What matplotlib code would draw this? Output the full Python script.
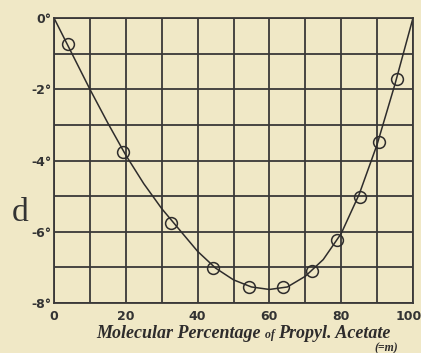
import matplotlib
matplotlib.use("Agg")
import matplotlib.pyplot as plt
import matplotlib.transforms as mtrans

# observed points (molecular % of propyl acetate, depression d in degrees)
obs_x = [4, 19.3, 32.6, 44.4, 54.4, 63.9, 71.8, 78.7, 85.2, 90.5, 95.6]
obs_y = [-0.73, -3.76, -5.75, -7.01, -7.56, -7.56, -7.10, -6.24, -5.02, -3.47, -1.70]

# drawn curve
curve_x = [0, 5, 10, 15, 20, 25, 30, 35, 40, 45, 50, 55, 60, 65, 70, 75, 80, 85, 90, 95, 100]
curve_y = [0, -1.0, -2.0, -2.95, -3.85, -4.65, -5.35, -5.95, -6.55, -7.02, -7.35,
           -7.55, -7.62, -7.55, -7.25, -6.78, -6.05, -4.95, -3.55, -1.85, 0]

xticks = [0, 20, 40, 60, 80, 100]
yticks = [0, -2, -4, -6, -8]
ytick_labels = ["0°", "-2°", "-4°", "-6°", "-8°"]

paper = "#f0e8c6"
ink = "#3a3838"

fig = plt.figure(figsize=(4.21, 3.53), dpi=100, facecolor=paper)
ax = fig.add_axes([54/421, 50/353, 359/421, 285/353], facecolor=paper)

# the grid, one line every 10 % and every degree
for gx in range(0, 101, 10):
    ax.axvline(gx, color=ink, lw=1.3, zorder=1)
for gy in range(-8, 1):
    ax.axhline(gy, color=ink, lw=1.3, zorder=1)

ax.plot(curve_x, curve_y, color="#2e2c2c", lw=1.1, zorder=2)
ax.plot(obs_x, obs_y, "o", ms=8.5, mfc="none", mec="#2e2c2c", mew=1.1, zorder=3)

ax.set_xlim(0, 100)
ax.set_ylim(-8, 0)
for s in ax.spines.values():
    s.set_color(ink)
    s.set_linewidth(1.3)

ax.set_xticks(xticks)
ax.set_xticklabels([str(t) for t in xticks], fontsize=9, fontweight="bold", color="#333")
ax.set_yticks(yticks)
ax.set_yticklabels(ytick_labels, fontsize=9, fontweight="bold", color="#333")
ax.tick_params(axis="x", length=0, pad=5)
ax.tick_params(axis="y", length=0, pad=2)
# last x label sits against the right edge of the page
last = ax.get_xticklabels()[-1]
last.set_transform(last.get_transform() + mtrans.ScaledTranslation(-4/100, 0, fig.dpi_scale_trans))

fig.text(20/421, 1 - 213/353, "d", fontsize=24, family="Liberation Serif",
         color="#333", ha="center", va="center")

# x label in pieces, the "of" printed small
fig.canvas.draw()
r = fig.canvas.get_renderer()
parts = [("Molecular Percentage ", 13), ("of ", 8.5), ("Propyl. Acetate", 13)]
x0 = 96
base_y = 1 - 338/353
for txt, size in parts:
    t = fig.text(x0/421, base_y, txt, fontsize=size, family="Liberation Serif",
                 style="italic", fontweight="bold", color="#2e2c2c", va="baseline")
    x0 += t.get_window_extent(r).width
fig.text(386/421, 1 - 348/353, "(=m)", fontsize=8.5, family="Liberation Serif",
         style="italic", fontweight="bold", color="#2e2c2c", ha="center", va="center")

fig.savefig("out.png", dpi=100, facecolor=paper)
